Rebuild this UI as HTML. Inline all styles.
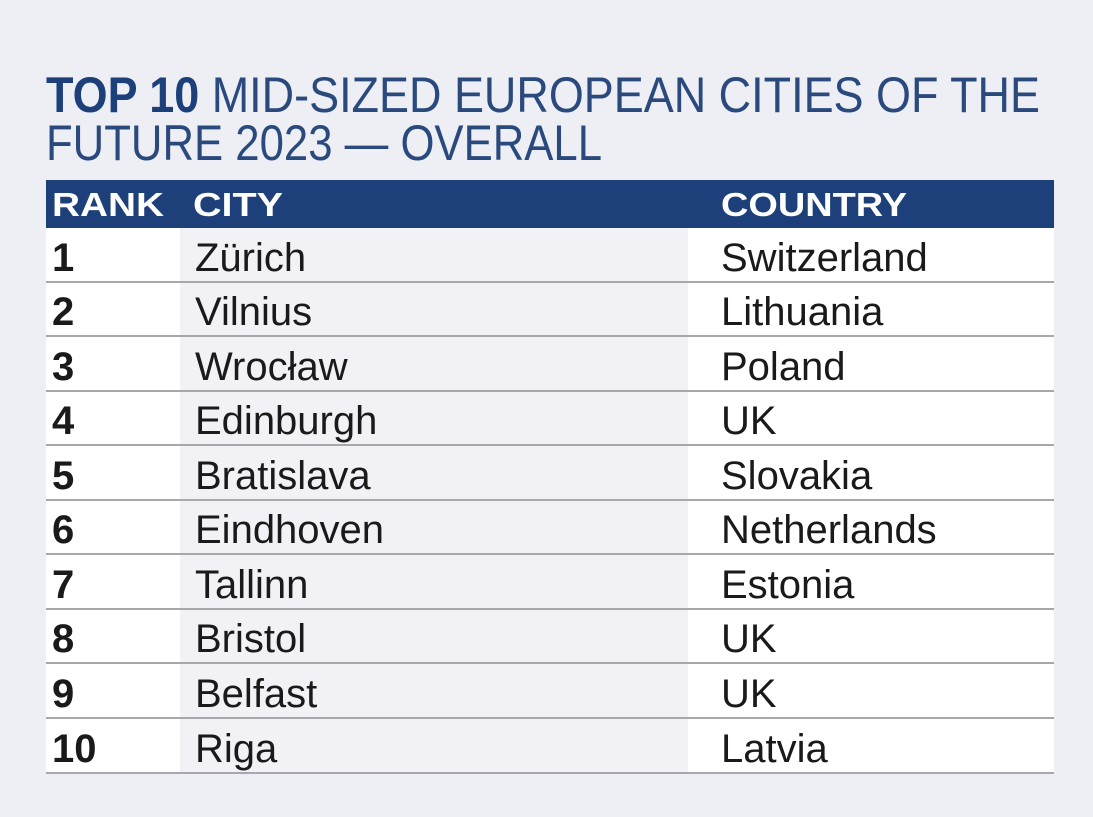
<!DOCTYPE html>
<html><head><style>
html,body{margin:0;padding:0;background:#eeeef5;}
svg{display:block}
</style></head><body>
<svg width="1093" height="817" xmlns="http://www.w3.org/2000/svg" font-family="Liberation Sans, sans-serif">
<rect width="1093" height="817" fill="#eeeef5"/>
<text x="46" y="112" font-size="50" fill="#2a4a7e" textLength="994" lengthAdjust="spacingAndGlyphs"><tspan font-weight="bold" fill="#1d3f7a">TOP 10</tspan> MID-SIZED EUROPEAN CITIES OF THE</text>
<text x="46" y="160" font-size="50" fill="#2a4a7e" textLength="556" lengthAdjust="spacingAndGlyphs">FUTURE 2023 — OVERALL</text>
<rect x="46" y="180" width="1008" height="48" fill="#1d3f7a"/>
<g fill="#fff" font-weight="bold" font-size="33">
<text x="52" y="216" textLength="112" lengthAdjust="spacingAndGlyphs">RANK</text>
<text x="193" y="216" textLength="90" lengthAdjust="spacingAndGlyphs">CITY</text>
<text x="721" y="216" textLength="186" lengthAdjust="spacingAndGlyphs">COUNTRY</text>
</g>
<rect x="46" y="228" width="134" height="545" fill="#ffffff"/>
<rect x="180" y="228" width="508" height="545" fill="#f2f2f6"/>
<rect x="688" y="228" width="366" height="545" fill="#ffffff"/>
<g stroke="#a8a8ac" stroke-width="2">
<line x1="46" x2="1054" y1="282" y2="282"/>
<line x1="46" x2="1054" y1="336" y2="336"/>
<line x1="46" x2="1054" y1="391" y2="391"/>
<line x1="46" x2="1054" y1="445" y2="445"/>
<line x1="46" x2="1054" y1="500" y2="500"/>
<line x1="46" x2="1054" y1="554" y2="554"/>
<line x1="46" x2="1054" y1="609" y2="609"/>
<line x1="46" x2="1054" y1="663" y2="663"/>
<line x1="46" x2="1054" y1="718" y2="718"/>
<line x1="46" x2="1054" y1="773" y2="773"/>
</g>
<g font-size="40" fill="#1a1a1a">
<g font-weight="bold">
<text x="52" y="271">1</text><text x="52" y="325">2</text><text x="52" y="380">3</text><text x="52" y="434">4</text><text x="52" y="489">5</text><text x="52" y="543">6</text><text x="52" y="598">7</text><text x="52" y="652">8</text><text x="52" y="707">9</text><text x="52" y="762">10</text>
</g>
<text x="195" y="271">Zürich</text><text x="195" y="325">Vilnius</text><text x="195" y="380">Wrocław</text><text x="195" y="434">Edinburgh</text><text x="195" y="489">Bratislava</text><text x="195" y="543">Eindhoven</text><text x="195" y="598">Tallinn</text><text x="195" y="652">Bristol</text><text x="195" y="707">Belfast</text><text x="195" y="762">Riga</text>
<text x="721" y="271">Switzerland</text><text x="721" y="325">Lithuania</text><text x="721" y="380">Poland</text><text x="721" y="434">UK</text><text x="721" y="489">Slovakia</text><text x="721" y="543">Netherlands</text><text x="721" y="598">Estonia</text><text x="721" y="652">UK</text><text x="721" y="707">UK</text><text x="721" y="762">Latvia</text>
</g>
</svg>
</body></html>
